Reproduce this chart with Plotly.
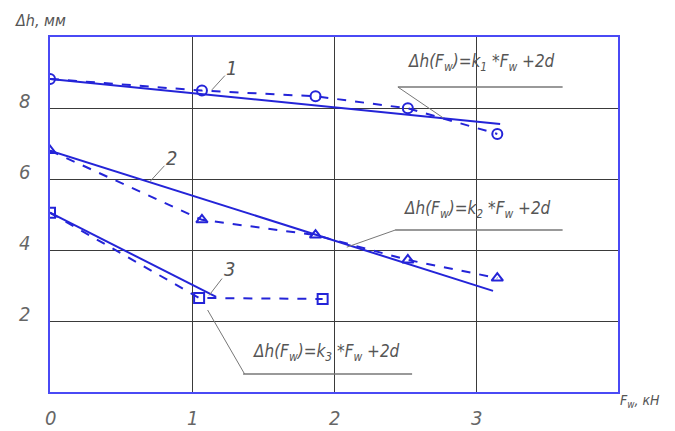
import plotly.graph_objects as go

# measured points (dashed curves with markers)
f1_x = [0, 1.07, 1.87, 2.52, 3.15]
h1_y = [8.82, 8.49, 8.33, 7.99, 7.27]
f2_x = [0, 1.07, 1.87, 2.52, 3.15]
h2_y = [6.8, 4.85, 4.42, 3.72, 3.21]
f3_x = [0, 1.05, 1.92]
h3_y = [5.05, 2.65, 2.62]

# fitted lines dh(Fw) = k*Fw + 2d
fit1_x = [0, 3.17]
fit1_y = [8.82, 7.55]
fit2_x = [0, 3.12]
fit2_y = [6.8, 2.85]
fit3_x = [0, 1.17]
fit3_y = [5.05, 2.68]

x_ticks = [0, 1, 2, 3]
y_ticks = [2, 4, 6, 8]

BLUE = '#2424d8'
FRAME = '#4a4af5'
GREY = '#555555'
FONT = 'Liberation Sans Narrow, DejaVu Sans Condensed, Liberation Sans, sans-serif'

fig = go.Figure()

series = [
    (f1_x, h1_y, fit1_x, fit1_y, 'circle-open', '1'),
    (f2_x, h2_y, fit2_x, fit2_y, 'triangle-up-open', '2'),
    (f3_x, h3_y, fit3_x, fit3_y, 'square-open', '3'),
]
for fx, hy, lx, ly, sym, name in series:
    fig.add_trace(go.Scatter(
        x=fx, y=hy, mode='lines+markers', name=name + ' exp',
        line=dict(color=BLUE, width=2, dash='dash'),
        marker=dict(symbol=sym, size=10, color=BLUE, line=dict(width=2, color=BLUE)),
        showlegend=False,
    ))
    fig.add_trace(go.Scatter(
        x=lx, y=ly, mode='lines', name=name + ' fit',
        line=dict(color=BLUE, width=2),
        showlegend=False,
    ))

axis_common = dict(
    showgrid=True, gridcolor='#3a3a3a', gridwidth=1,
    showline=True, linecolor=FRAME, linewidth=2, mirror=True,
    zeroline=False, showticklabels=False, ticks='',
)
fig.update_xaxes(range=[0, 4], tickvals=[1, 2, 3], **axis_common)
fig.update_yaxes(range=[0, 10], tickvals=y_ticks, **axis_common)

tick_font = dict(family=FONT, size=20, color='#666666', style='italic')
ann = []
for v in x_ticks:
    ann.append(dict(x=v, y=0, xref='x', yref='y', text=str(v), showarrow=False,
                    yshift=-26, font=tick_font))
for v in y_ticks:
    ann.append(dict(x=0, y=v, xref='x', yref='y', text=str(v), showarrow=False,
                    xshift=-26, yshift=7, font=tick_font))

# curve numbers with leaders
num_font = dict(family=FONT, size=20, color=GREY, style='italic')
for x, y, ax, ay, t in [(1.14, 8.51, 20, -22, '1'), (0.7, 6.8 - 1.27 * 0.7, 22, -24, '2'),
                        (1.12, 2.72, 20, -26, '3')]:
    ann.append(dict(x=x, y=y, xref='x', yref='y', text=t, showarrow=True, arrowhead=0,
                    arrowwidth=1, arrowcolor='#777777', ax=ax, ay=ay, font=num_font))

# formula labels
form_font = dict(family=FONT, size=17, color=GREY, style='italic')
formulas = [
    (3.04, 9.27, 'Δh(F<sub>w</sub>)=k<sub>1</sub> *F<sub>w</sub> +2d'),
    (3.01, 5.13, 'Δh(F<sub>w</sub>)=k<sub>2</sub> *F<sub>w</sub> +2d'),
    (1.95, 1.1, 'Δh(F<sub>w</sub>)=k<sub>3</sub> *F<sub>w</sub> +2d'),
]
for x, y, t in formulas:
    ann.append(dict(x=x, y=y, xref='x', yref='y', text=t, showarrow=False, font=form_font))

ann.append(dict(x=-0.065, y=1.08, xref='paper', yref='paper', text='Δh, мм', showarrow=False,
                xanchor='left', font=dict(family=FONT, size=16, color=GREY, style='italic')))
ann.append(dict(x=1.078, y=-0.055, xref='paper', yref='paper', text='F<sub>w</sub>, кН', showarrow=False,
                xanchor='right', font=dict(family=FONT, size=14, color=GREY, style='italic')))

# underline + leader lines for formulas
leaders = [
    ((2.45, 3.61, 8.59), (2.45, 8.59, 2.77, 7.72)),
    ((2.43, 3.61, 4.56), (2.43, 4.56, 2.09, 4.08)),
    ((1.36, 2.55, 0.51), (1.37, 0.51, 1.11, 2.31)),
]
shapes = []
for (ux0, ux1, uy), (lx0, ly0, lx1, ly1) in leaders:
    shapes.append(dict(type='line', xref='x', yref='y', x0=ux0, x1=ux1, y0=uy, y1=uy,
                       line=dict(color='#777777', width=1.5)))
    shapes.append(dict(type='line', xref='x', yref='y', x0=lx0, y0=ly0, x1=lx1, y1=ly1,
                       line=dict(color='#777777', width=1)))

# page body adds ~8px offset, margins compensate for it
fig.update_layout(
    width=675, height=431,
    margin=dict(l=42, r=65, t=29, b=47),
    paper_bgcolor='white', plot_bgcolor='white',
    annotations=ann, shapes=shapes,
)

fig.write_html("out.html")
